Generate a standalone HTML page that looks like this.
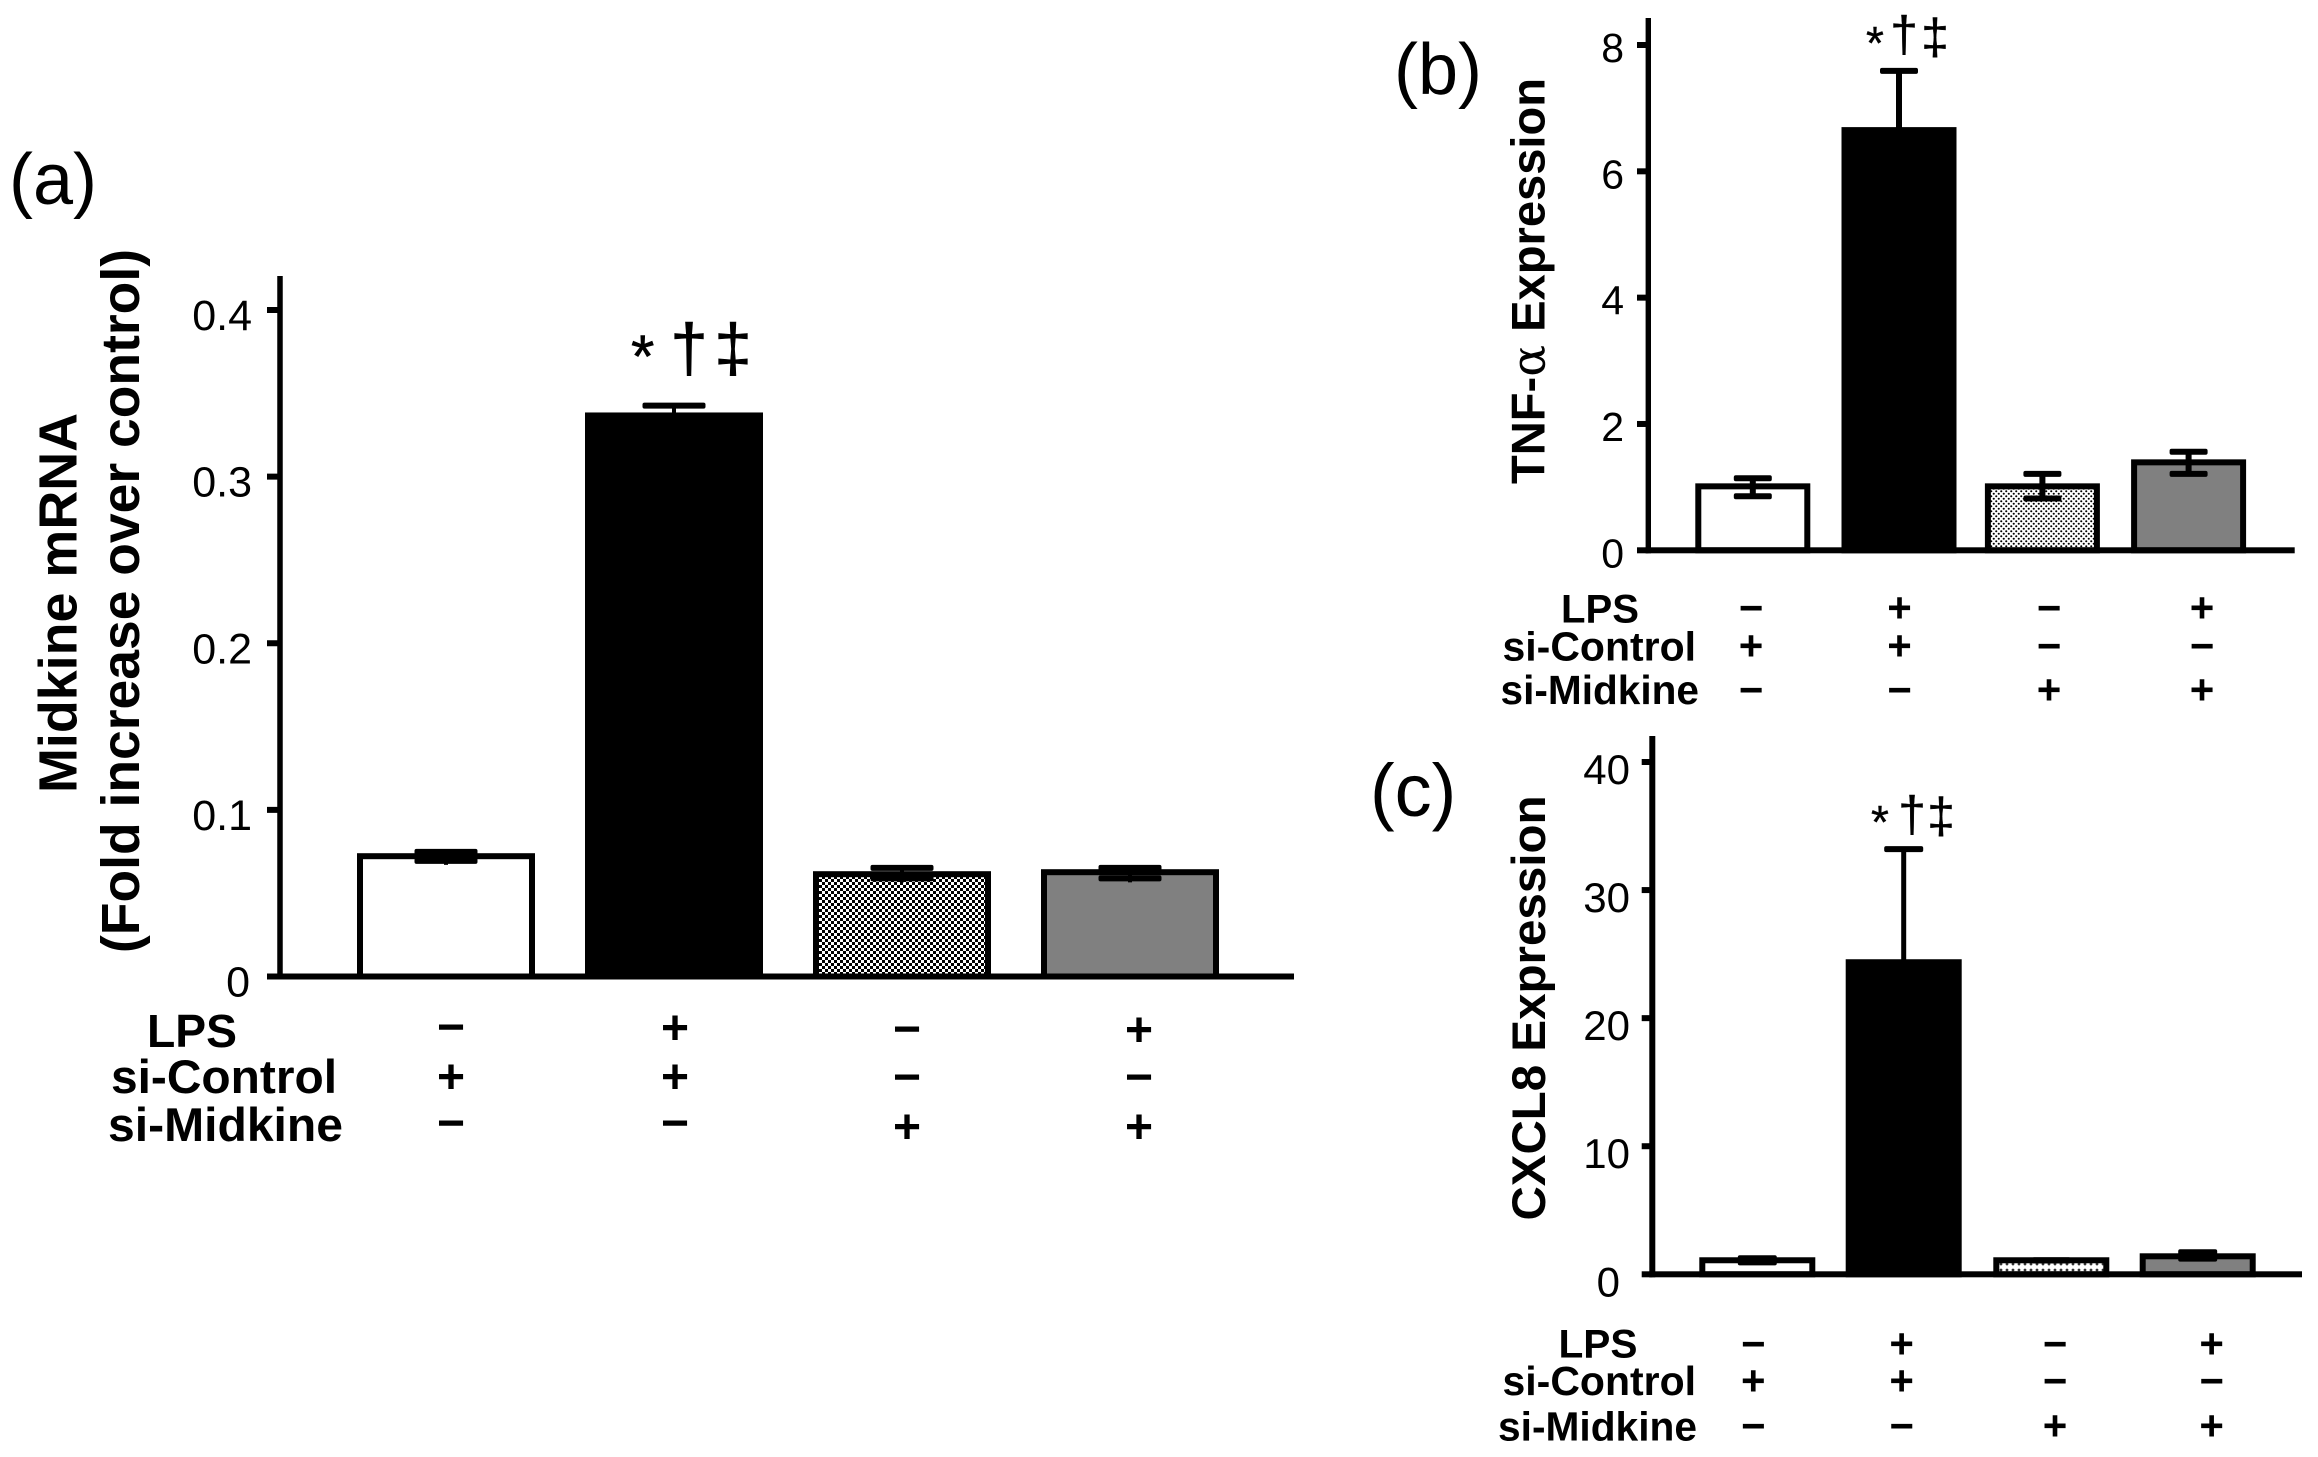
<!DOCTYPE html>
<html lang="en">
<head>
<meta charset="utf-8">
<title>Midkine, TNF-α and CXCL8 expression</title>
<style>
  html, body { margin: 0; padding: 0; background: #fff; }
  svg { display: block; }
  text { font-family: "Liberation Sans", sans-serif; fill: #000; }
  .bold { font-weight: 700; }
</style>
</head>
<body>
<svg id="figure" xmlns="http://www.w3.org/2000/svg" width="2318" height="1457" viewBox="0 0 2318 1457">
  <defs>
    <pattern id="hatch-a" width="6" height="6" patternUnits="userSpaceOnUse">
      <rect width="6" height="6" fill="#fff"/>
      <rect x="0" y="0" width="3" height="3" fill="#000"/>
      <rect x="3" y="3" width="3" height="3" fill="#000"/>
    </pattern>
    <pattern id="hatch-b" width="5" height="5" patternUnits="userSpaceOnUse">
      <rect width="5" height="5" fill="#fff"/>
      <circle cx="1.25" cy="1.25" r="1.05" fill="#000"/>
      <circle cx="3.75" cy="3.75" r="1.05" fill="#000"/>
    </pattern>
    <pattern id="hatch-c" width="6" height="6" patternUnits="userSpaceOnUse">
      <rect width="6" height="6" fill="#fff"/>
      <circle cx="3" cy="4" r="1.4" fill="#333"/>
    </pattern>
  </defs>
  <rect width="2318" height="1457" fill="#fff"/>

  <text x="9" y="204" font-size="72">(a)</text>
  <text x="1394" y="94" font-size="72">(b)</text>
  <text x="1370" y="816" font-size="74">(c)</text>

  <text class="bold" font-size="54" text-anchor="middle" transform="translate(76.5 603) rotate(-90)" textLength="380" lengthAdjust="spacingAndGlyphs">Midkine mRNA</text>
  <text class="bold" font-size="54" text-anchor="middle" transform="translate(139 601) rotate(-90)" textLength="704" lengthAdjust="spacingAndGlyphs">(Fold increase over control)</text>
  <text class="bold" font-size="47" text-anchor="middle" transform="translate(1544.4 281) rotate(-90)" textLength="406" lengthAdjust="spacingAndGlyphs">TNF-<tspan font-weight="400" font-family="'DejaVu Serif', serif">α</tspan> Expression</text>
  <text class="bold" font-size="47.5" text-anchor="middle" transform="translate(1544.8 1008) rotate(-90)" textLength="425" lengthAdjust="spacingAndGlyphs">CXCL8 Expression</text>

  <g stroke="#000" stroke-width="0.6">
    <text x="631" y="377" font-size="60">*</text>
    <text x="689" y="371" font-size="68" text-anchor="middle">†</text>
    <text x="733" y="371" font-size="68" text-anchor="middle">‡</text>
  </g>
  <g stroke="#000" stroke-width="0.4">
    <text x="1866" y="59" font-size="46">*</text>
    <text x="1904" y="51.5" font-size="50" text-anchor="middle">†</text>
    <text x="1935" y="54" font-size="50" text-anchor="middle">‡</text>
  </g>
  <g stroke="#000" stroke-width="0.4">
    <text x="1871" y="838" font-size="46">*</text>
    <text x="1912" y="831.5" font-size="50" text-anchor="middle">†</text>
    <text x="1941" y="833" font-size="50" text-anchor="middle">‡</text>
  </g>

  <g class="bold" font-weight="700">
    <text x="147" y="1047" font-size="46" textLength="90" lengthAdjust="spacingAndGlyphs">LPS</text>
    <text x="111" y="1093" font-size="47" textLength="226" lengthAdjust="spacingAndGlyphs">si-Control</text>
    <text x="108" y="1141" font-size="47" textLength="235" lengthAdjust="spacingAndGlyphs">si-Midkine</text>
  </g>
  <g font-weight="700">
    <text x="1561" y="622.7" font-size="40" textLength="78" lengthAdjust="spacingAndGlyphs">LPS</text>
    <text x="1502.5" y="660.7" font-size="41" textLength="193.5" lengthAdjust="spacingAndGlyphs">si-Control</text>
    <text x="1500.5" y="704" font-size="41" textLength="198.5" lengthAdjust="spacingAndGlyphs">si-Midkine</text>
  </g>
  <g font-weight="700">
    <text x="1558.5" y="1357.3" font-size="40" textLength="79" lengthAdjust="spacingAndGlyphs">LPS</text>
    <text x="1502.5" y="1395" font-size="41" textLength="193.5" lengthAdjust="spacingAndGlyphs">si-Control</text>
    <text x="1498" y="1440.7" font-size="41" textLength="199" lengthAdjust="spacingAndGlyphs">si-Midkine</text>
  </g>

  <g id="panel-a"></g>
  <g id="panel-b"></g>
  <g id="panel-c"></g>
</svg>

<script>
const categories = ['control', 'lps', 'si-midkine', 'lps-si-midkine'];
const treatmentRows = ['lps', 'si-control', 'si-midkine'];
const lpsSigns = ['−', '+', '−', '+'];
const siControlSigns = ['+', '+', '−', '−'];
const siMidkineSigns = ['−', '−', '+', '+'];

const panelAValues = [0.074, 0.3385, 0.0632, 0.0644];
const panelAErrHigh = [0.0748, 0.3426, 0.0652, 0.0652];
const panelAErrLow = [0.0694, 0.334, 0.0589, 0.0589];
const panelATicks = [0, 0.1, 0.2, 0.3, 0.4];
const panelATickLabels = ['0', '0.1', '0.2', '0.3', '0.4'];

const panelBValues = [1.06, 6.70, 1.06, 1.44];
const panelBErrHigh = [1.14, 7.59, 1.21, 1.56];
const panelBErrLow = [0.855, 5.81, 0.82, 1.21];
const panelBTicks = [0, 2, 4, 6, 8];
const panelBTickLabels = ['0', '2', '4', '6', '8'];

const panelCValues = [1.33, 24.6, 1.33, 1.64];
const panelCErrHigh = [1.25, 33.2, 1.09, 1.72];
const panelCErrLow = [0.93, 16.0, 1.09, 1.22];
const panelCTicks = [0, 10, 20, 30, 40];
const panelCTickLabels = ['0', '10', '20', '30', '40'];

const SVG_NS = 'http://www.w3.org/2000/svg';

function make(parent, tag, attrs) {
  const el = document.createElementNS(SVG_NS, tag);
  for (const k in attrs) el.setAttribute(k, attrs[k]);
  parent.appendChild(el);
  return el;
}

function drawPanel(p, values, errHigh, errLow, ticks, tickLabels) {
  const root = document.getElementById(p.id);
  const maxTick = ticks[ticks.length - 1];
  const y = v => p.y0 - (v / maxTick) * (p.y0 - p.yMax);
  const x = i => p.x0 + i * p.step + (i >= 2 ? p.midGap : 0);
  const fills = ['#fff', '#000', 'url(#' + p.hatch + ')', '#808080'];

  values.forEach((v, i) => {
    const top = y(v);
    const bar = make(root, 'rect', {
      x: x(i) + 3, y: top + 3, width: p.barW - 6, height: p.y0 - top - 3,
      fill: fills[i], stroke: '#000', 'stroke-width': 6
    });
    
    
  });

  values.forEach((v, i) => {
    const cx = x(i) + p.barW / 2;
    const hi = y(errHigh[i]);
    const lo = y(errLow[i]);
    const stem = make(root, 'rect', {
      x: cx - p.stemW / 2, y: hi, width: p.stemW, height: Math.max(lo - hi, 0) + p.nub, fill: '#000'
    });
    
    
    const capHigh = make(root, 'rect', {
      x: cx - p.capW / 2, y: hi - 3, width: p.capW, height: 6, rx: 2, fill: '#000'
    });
    
    
    const capLow = make(root, 'rect', {
      x: cx - p.capW / 2, y: lo - 3, width: p.capW, height: 6, rx: 2, fill: '#000'
    });
    
    
  });

  const yAxis = make(root, 'rect', {
    x: p.axisX - p.axisW / 2, y: p.axisTop, width: p.axisW, height: p.y0 + 3 - p.axisTop, fill: '#000'
  });
  
  
  const xAxis = make(root, 'rect', {
    x: p.axisX - p.axisW / 2, y: p.y0 - 3, width: p.axisEnd - p.axisX + p.axisW / 2, height: 6, fill: '#000'
  });
  
  

  ticks.forEach((t, i) => {
    const mark = make(root, 'rect', {
      x: p.tickLeft, y: y(t) - 3, width: p.axisX - p.tickLeft, height: 6, fill: '#000'
    });
    
    
    const label = make(root, 'text', {
      x: p.labelRight + (t === 0 ? p.zeroDx : 0), y: y(t) + p.labelDy,
      'font-size': p.labelSize, 'text-anchor': 'end'
    });
    label.textContent = tickLabels[i];
    
    
  });

  [lpsSigns, siControlSigns, siMidkineSigns].forEach((row, r) => {
    row.forEach((sign, c) => {
      const cy = p.signY[r][c];
      const s = make(root, 'text', {
        x: p.signX[c], y: cy + p.signSize * 0.335,
        'font-size': p.signSize, 'font-weight': 700, 'text-anchor': 'middle'
      });
      s.textContent = sign;
      
      
    });
  });
}

drawPanel({
  id: 'panel-a', key: 'a', hatch: 'hatch-a',
  y0: 976.5, yMax: 310, x0: 357, step: 228, midGap: 0, barW: 178,
  capW: 63, stemW: 4, nub: 4,
  axisX: 280, axisW: 5.5, axisTop: 276, axisEnd: 1294, tickLeft: 267,
  labelRight: 252, labelDy: 20, labelSize: 43, zeroDx: -2,
  signSize: 48, signX: [451, 675, 907, 1139],
  signY: [[1027, 1028, 1029, 1030], [1077, 1077, 1077, 1077], [1123, 1123, 1127, 1127]]
}, panelAValues, panelAErrHigh, panelAErrLow, panelATicks, panelATickLabels);

drawPanel({
  id: 'panel-b', key: 'b', hatch: 'hatch-b',
  y0: 550.3, yMax: 45, x0: 1695.3, step: 146.2, midGap: -2.8, barW: 115,
  capW: 38, stemW: 6, nub: 0,
  axisX: 1648.3, axisW: 5.4, axisTop: 18, axisEnd: 2294.7, tickLeft: 1637,
  labelRight: 1624, labelDy: 17, labelSize: 41, zeroDx: 0,
  signSize: 42, signX: [1751, 1899.5, 2049, 2202],
  signY: [[608, 608, 608, 608], [646, 646, 646, 646], [690, 690, 690, 690]]
}, panelBValues, panelBErrHigh, panelBErrLow, panelBTicks, panelBTickLabels);

drawPanel({
  id: 'panel-c', key: 'c', hatch: 'hatch-c',
  y0: 1274.3, yMax: 762, x0: 1699.3, step: 146.4, midGap: 1.2, barW: 116,
  capW: 39, stemW: 5, nub: 0,
  axisX: 1652.3, axisW: 6, axisTop: 736, axisEnd: 2302, tickLeft: 1641.7,
  labelRight: 1630, labelDy: 22, labelSize: 42, zeroDx: -10,
  signSize: 42, signX: [1753.3, 1901.7, 2055, 2211.6],
  signY: [[1344, 1344, 1344, 1344], [1381, 1381, 1381, 1381], [1426, 1426, 1426, 1426]]
}, panelCValues, panelCErrHigh, panelCErrLow, panelCTicks, panelCTickLabels);
</script>
</body>
</html>
